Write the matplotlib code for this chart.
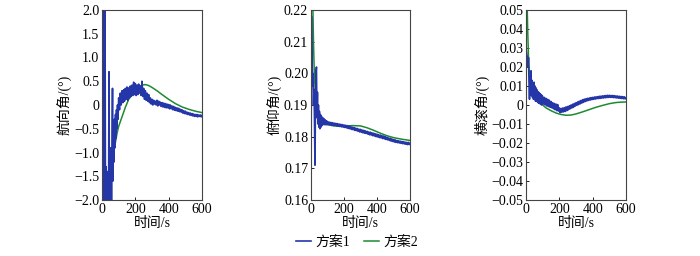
import numpy as np
import matplotlib.pyplot as plt

plt.rcParams['font.family'] = ['Liberation Serif', 'Noto Sans CJK SC']
plt.rcParams['font.size'] = 10
plt.rcParams['axes.unicode_minus'] = True

# shared time grid for the noisy series (scheme 1)
t_head = [0, 3, 6, 9, 12, 15, 18, 21, 24, 27, 30, 33, 36, 39, 42, 45, 48, 51,
          54, 57, 60, 63, 66, 69, 72, 75, 78, 81, 84, 87, 90, 93, 96]
t_blue = np.concatenate([t_head, np.arange(100, 605, 5)])

# heading angle
yaw_blue = [-2.5, 2.5, -2.5, 2.5, -2.5, 2.5, 2.5, -2.5, -1.3, -2.5, -1.6, -2.3,
            -1.4, -2.5, 0.7, -2.5, -1.2, -2.2, -0.9, -2.5, -0.8, 0.35, -1.6,
            -0.5, -1.2, -0.3, -0.9, -0.2, -0.7, -0.1, -0.5, 0.0, -0.3,
            0.15, -0.10, 0.25, 0.00, 0.30, 0.05, 0.32, 0.08, 0.35, 0.12,
            0.38, 0.10, 0.36, 0.15, 0.40, 0.18, 0.42, 0.20, 0.48, 0.22,
            0.45, 0.20, 0.42, 0.22, 0.44, 0.25, 0.40, 0.20, 0.50, 0.18,
            0.35, 0.12, 0.30, 0.10, 0.25, 0.08, 0.22, 0.05, 0.15, 0.02,
            0.12, 0.00, 0.10, 0.02, 0.08, 0.00, 0.10, -0.02, 0.08, 0.00,
            0.06, -0.03, 0.05, -0.04, 0.04, -0.05, 0.03, -0.06, 0.02, -0.06,
            0.01, -0.08, 0.00, -0.08, -0.02, -0.10, -0.03, -0.11, -0.05, -0.12,
            -0.06, -0.13, -0.07, -0.14, -0.09, -0.15, -0.10, -0.17, -0.12, -0.18,
            -0.13, -0.19, -0.15, -0.20, -0.16, -0.21, -0.17, -0.22, -0.18, -0.23,
            -0.19, -0.24, -0.20, -0.24, -0.20, -0.25, -0.21, -0.24, -0.21, -0.25,
            -0.22]
t_yaw_green = [0, 5, 8, 12, 20, 30, 40, 50, 60, 70, 80, 90, 100, 110, 120, 140,
               160, 180, 200, 220, 240, 260, 280, 300, 330, 360, 400, 440, 480,
               520, 560, 600]
yaw_green = [3, 3, -3, -3, -3, -3, -2.6, -1.9, -1.3, -1.0, -0.8, -0.6, -0.45,
             -0.35, -0.25, -0.05, 0.12, 0.22, 0.30, 0.37, 0.42, 0.43, 0.41,
             0.37, 0.30, 0.22, 0.12, 0.03, -0.04, -0.09, -0.13, -0.16]

# pitch angle
pitch_blue = [0.16, 0.218, 0.205, 0.196, 0.2, 0.19, 0.195, 0.186, 0.171, 0.19,
              0.2, 0.202, 0.186, 0.194, 0.184, 0.19, 0.183, 0.188, 0.1825,
              0.187, 0.183, 0.1865, 0.1835, 0.186, 0.184, 0.1858, 0.1838,
              0.1855, 0.1838, 0.1852, 0.1838, 0.185, 0.1838,
              0.1848, 0.1838, 0.1846, 0.1837, 0.1845, 0.1836, 0.1844, 0.1835, 0.1843, 0.1835,
              0.1842, 0.1834, 0.1841, 0.1833, 0.1840, 0.1832, 0.1839, 0.1831, 0.1838, 0.1830,
              0.1837, 0.1829, 0.1836, 0.1828, 0.1835, 0.1826, 0.1834, 0.1825, 0.1832, 0.1823,
              0.1830, 0.1822, 0.1829, 0.1820, 0.1827, 0.1819, 0.1826, 0.1817, 0.1824, 0.1815,
              0.1823, 0.1814, 0.1821, 0.1812, 0.1820, 0.1811, 0.1818, 0.1810, 0.1817, 0.1808,
              0.1815, 0.1806, 0.1814, 0.1805, 0.1812, 0.1803, 0.1811, 0.1802, 0.1809, 0.1800,
              0.1808, 0.1799, 0.1806, 0.1797, 0.1805, 0.1796, 0.1803, 0.1794, 0.1802, 0.1793,
              0.1800, 0.1791, 0.1798, 0.1790, 0.1796, 0.1788, 0.1795, 0.1786, 0.1793, 0.1785,
              0.1791, 0.1783, 0.1790, 0.1782, 0.1788, 0.1781, 0.1787, 0.1780, 0.1786, 0.1779,
              0.1785, 0.1778, 0.1784, 0.1777, 0.1783, 0.1776, 0.1782, 0.1775, 0.1782, 0.1775,
              0.1779]
t_pitch_green = [0, 5, 10, 15, 20, 25, 30, 40, 50, 60, 80, 100, 130, 160, 200,
                 250, 300, 340, 380, 420, 460, 500, 550, 600]
pitch_green = [0.23, 0.23, 0.225, 0.21, 0.2, 0.195, 0.192, 0.188, 0.186, 0.185,
               0.1843, 0.1838, 0.1835, 0.1833, 0.1833, 0.1835, 0.1834, 0.1828,
               0.1820, 0.1811, 0.1803, 0.1797, 0.1792, 0.1788]

# roll angle
roll_blue = [0.03, 0.028, 0.026, 0.025, 0.02, 0.025, 0.012, 0.003, 0.015, 0.006,
             0.018, 0.005, 0.013, 0.004, 0.011, 0.003, 0.012, 0.004, 0.010,
             0.002, 0.009, 0.002, 0.008, 0.0015, 0.007, 0.001, 0.0065, 0.0008,
             0.006, 0.0005, 0.0055, 0.0, 0.005,
             0.0045, 0.0005, 0.0040, 0.0000, 0.0035, -0.0005, 0.0030, -0.0008, 0.0025, -0.0012,
             0.0018, -0.0015, 0.0012, -0.0020, 0.0008, -0.0025, 0.0005, -0.0030, 0.0002, -0.0032,
             -0.0015, -0.0040, -0.0018, -0.0038, -0.0016, -0.0036, -0.0014, -0.0034, -0.0010, -0.0030,
             -0.0008, -0.0025, -0.0004, -0.0020, 0.0000, -0.0016, 0.0004, -0.0012, 0.0008, -0.0006,
             0.0012, -0.0002, 0.0016, 0.0002, 0.0020, 0.0006, 0.0024, 0.0010, 0.0028, 0.0014,
             0.0031, 0.0018, 0.0033, 0.0021, 0.0035, 0.0024, 0.0037, 0.0026, 0.0039, 0.0028,
             0.0040, 0.0030, 0.0042, 0.0031, 0.0043, 0.0033, 0.0044, 0.0034, 0.0046, 0.0035,
             0.0047, 0.0036, 0.0048, 0.0037, 0.0049, 0.0038, 0.0050, 0.0039, 0.0051, 0.0040,
             0.0051, 0.0040, 0.0050, 0.0040, 0.0050, 0.0039, 0.0049, 0.0038, 0.0048, 0.0037,
             0.0047, 0.0036, 0.0046, 0.0035, 0.0045, 0.0034, 0.0044, 0.0033, 0.0043, 0.0032,
             0.0038]
t_roll_green = [0, 5, 10, 15, 20, 25, 30, 40, 50, 60, 80, 100, 120, 150, 180,
                210, 240, 270, 300, 340, 380, 420, 460, 500, 540, 570, 600]
roll_green = [0.06, 0.06, 0.04, 0.025, 0.017, 0.013, 0.011, 0.008, 0.006, 0.0045,
              0.002, 0.0, -0.0015, -0.003, -0.0042, -0.005, -0.0054, -0.0053,
              -0.0047, -0.0036, -0.0024, -0.0012, -0.0002, 0.0007, 0.0013,
              0.0015, 0.0016]

yaw_ticks = [-2.0, -1.5, -1.0, -0.5, 0, 0.5, 1.0, 1.5, 2.0]
yaw_labels = ['−2.0', '−1.5', '−1.0', '−0.5', '0', '0.5', '1.0', '1.5', '2.0']
pitch_ticks = [0.16, 0.17, 0.18, 0.19, 0.20, 0.21, 0.22]
pitch_labels = ['0.16', '0.17', '0.18', '0.19', '0.20', '0.21', '0.22']
roll_ticks = [-0.05, -0.04, -0.03, -0.02, -0.01, 0, 0.01, 0.02, 0.03, 0.04, 0.05]
roll_labels = ['−0.05', '−0.04', '−0.03', '−0.02', '−0.01', '0',
               '0.01', '0.02', '0.03', '0.04', '0.05']

blue = '#2536a8'
green = '#1e8a30'

fig = plt.figure(figsize=(7, 2.56), dpi=100)
W, H = 700, 256
boxes = [(102, 100), (311, 99), (526, 100)]
panels = [
    (t_yaw_green, yaw_green, yaw_blue, (-2, 2), yaw_ticks, yaw_labels, '航向角/(°)'),
    (t_pitch_green, pitch_green, pitch_blue, (0.16, 0.22), pitch_ticks, pitch_labels, '俯仰角/(°)'),
    (t_roll_green, roll_green, roll_blue, (-0.05, 0.05), roll_ticks, roll_labels, '横滚角/(°)'),
]

for (left, width), (tg, g, b, ylim, ticks, labels, ylab) in zip(boxes, panels):
    ax = fig.add_axes([left / W, 1 - 200 / H, width / W, 190 / H])
    l2, = ax.plot(tg, g, color=green, lw=1.1, label='方案2')
    l1, = ax.plot(t_blue, b, color=blue, lw=1.2, label='方案1')
    ax.set_xlim(0, 600)
    ax.set_ylim(*ylim)
    ax.set_xticks([0, 200, 400, 600])
    ax.set_yticks(ticks)
    ax.set_yticklabels(labels)
    ax.tick_params(direction='in', length=2.5, width=0.6, labelsize=10, pad=2)
    for s in ax.spines.values():
        s.set_linewidth(0.8)
        s.set_color('#444444')
    ax.set_xlabel('时间/s', fontsize=10, labelpad=1)
    ax.set_ylabel(ylab, fontsize=10, labelpad=1)

fig.legend([l1, l2], ['方案1', '方案2'], loc='center', bbox_to_anchor=(357 / W, 1 - 242 / H),
           ncol=2, frameon=False, fontsize=10, handlelength=1.1, columnspacing=1.0,
           handletextpad=0.3)

plt.savefig('out.png', dpi=100)
